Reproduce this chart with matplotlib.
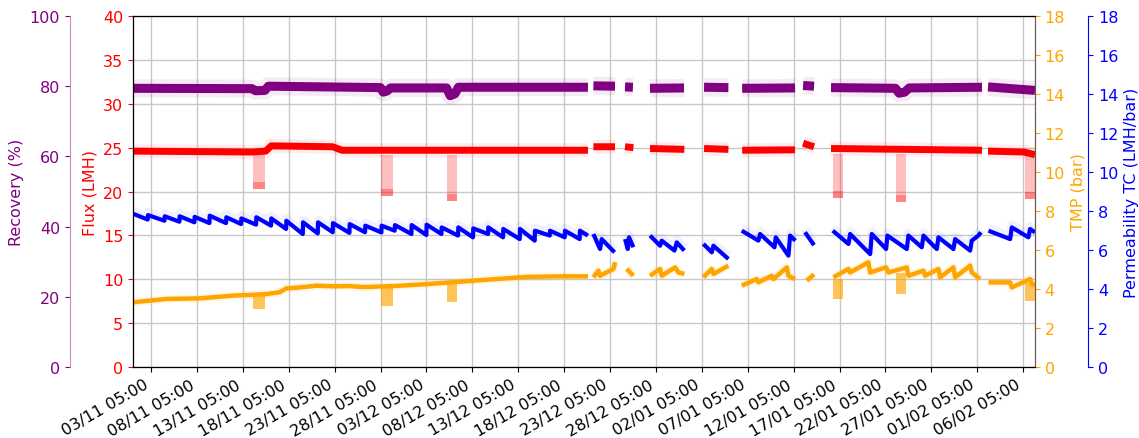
import numpy as np
import matplotlib
matplotlib.use("Agg")
import matplotlib.pyplot as plt
import matplotlib.dates as mdates
from datetime import datetime, timedelta

start = datetime(2020, 11, 1)

# times are days since 01/11 00:00, None marks a break in the record
rec_days = [0.3, 13.2, 13.6, 14.6, 15.0, 27.2, 27.5, 27.9, 28.3, 34.4, 34.8, 35.3, 35.7, 49.8, None,
            50.4, 52.75, None, 53.84, 54.7, None, 56.56, 60.27, None, 62.45, 65.1, None,
            66.6, 72.36, None, 73.24, 74.43, None, 76.28, 83.3, 83.7, 84.3, 84.8, 92.73, None,
            93.38, 98.5]
rec_vals = [79.4, 79.3, 78.7, 78.8, 80.0, 79.6, 78.3, 78.6, 79.5, 79.5, 77.3, 77.8, 79.7, 79.7, None,
            80.1, 80.0, None, 79.8, 79.7, None, 79.4, 79.5, None, 79.7, 79.6, None,
            79.4, 79.5, None, 80.2, 80.0, None, 79.6, 79.4, 78.0, 78.3, 79.5, 79.7, None,
            79.8, 78.8]

flux_days = [0.3, 13.2, 14.7, 15.3, 22.0, 23.0, 49.8, None,
             50.4, 52.75, None, 53.84, 54.75, None, 56.56, 60.3, None,
             62.45, 65.1, None, 66.6, 72.36, None, 73.24, 74.43, None,
             76.28, 92.73, None, 93.38, 97.3, 98.5]
flux_vals = [24.6, 24.5, 24.6, 25.2, 25.1, 24.7, 24.7, None,
             25.1, 25.1, None, 25.1, 25.0, None, 24.9, 24.8, None,
             24.9, 24.8, None, 24.7, 24.75, None, 25.5, 25.1, None,
             24.9, 24.7, None, 24.6, 24.5, 24.2]

tmp_days = [0.3, 3.88, 7.51, 11.14, 13.14, 14.77, 16.2, 16.95, 18.4, 20.2, 22.0, 23.85, 25.3,
            28.6, 32.2, 36.0, 39.5, 43.1, 46.75, 49.8, None,
            50.4, 50.94, 51.12, 52.58, 52.76, None, 54.03, 54.75, None,
            56.57, 57.66, 57.84, 59.29, 59.66, 60.3, None,
            62.38, 63.29, 63.47, 65.1, None,
            66.56, 68.19, 68.37, 69.82, 70.0, 71.46, 71.64, 72.36, None,
            73.64, 74.43, None,
            76.54, 78.18, 78.36, 80.35, 80.54, 82.28, 82.53, 84.53, 84.71, 86.35, 86.53,
            87.98, 88.16, 89.61, 89.8, 91.43, 91.61, 92.52, None,
            93.43, 95.79, 95.97, 97.96, 98.15, 98.5]
tmp_vals = [3.32, 3.49, 3.52, 3.66, 3.7, 3.74, 3.83, 4.03, 4.08, 4.17, 4.14, 4.15, 4.1,
            4.15, 4.25, 4.38, 4.5, 4.62, 4.65, 4.65, None,
            4.6, 4.94, 4.68, 5.03, 5.37, None, 5.03, 4.68, None,
            4.68, 5.03, 4.68, 5.11, 4.85, 4.77, None,
            4.6, 5.03, 4.77, 5.2, None,
            4.17, 4.51, 4.34, 4.68, 4.51, 5.11, 4.68, 4.51, None,
            4.43, 4.75, None,
            4.6, 5.03, 4.85, 5.37, 4.85, 5.11, 4.85, 5.11, 4.68, 4.94, 4.68,
            5.03, 4.6, 5.11, 4.6, 5.2, 4.85, 4.51, None,
            4.34, 4.34, 4.08, 4.51, 4.26, 4.2]

perm_days = [0.3, 1.85, 1.88, 3.67, 3.70, 5.30, 5.33, 6.93, 6.96, 8.57, 8.60, 10.38,
             10.41, 12.02, 12.05, 13.65, 13.68, 15.28, 15.31, 16.92, 16.95, 18.74,
             18.77, 20.37, 20.40, 22.00, 22.03, 23.82, 23.85, 25.52, 25.55, 27.30,
             27.33, 28.75, 28.78, 30.57, 30.60, 32.20, 32.23, 33.84, 33.87, 35.65,
             35.68, 37.28, 37.31, 38.92, 38.95, 40.55, 40.58, 42.37, 42.40, 44.00,
             44.03, 45.64, 45.67, 47.27, 47.30, 48.90, 48.93, 49.80, None,
             50.4, 51.12, 51.3, 52.7, None,
             53.85, 54.14, 54.28, 54.75, None,
             56.57, 57.66, 57.84, 59.22, 59.48, 60.3, None,
             62.38, 63.29, 63.47, 65.1, None,
             66.56, 68.37, 68.55, 70.12, 70.26, 71.64, 71.82, 72.4, None,
             73.45, 74.43, None,
             76.47, 78.18, 78.36, 80.54, 80.72, 82.28, 82.42, 84.53, 84.71, 86.16,
             86.35, 87.8, 87.98, 89.61, 89.8, 91.43, 91.61, 92.34, 92.6, None,
             93.43, 95.79, 95.97, 97.78, 97.96, 98.5]
perm_vals = [7.85, 7.56, 7.79, 7.50, 7.73, 7.45, 7.73, 7.42, 7.70, 7.38, 7.76, 7.38,
             7.68, 7.33, 7.62, 7.30, 7.68, 7.25, 7.62, 7.08, 7.50, 6.82,
             7.42, 6.85, 7.42, 6.91, 7.38, 6.88, 7.33, 6.91, 7.25, 6.90,
             7.25, 6.99, 7.28, 6.82, 7.28, 6.77, 7.30, 6.82, 7.16, 6.74,
             7.16, 6.65, 7.11, 6.82, 7.16, 6.65, 7.08, 6.56, 7.08, 6.48,
             6.99, 6.74, 6.99, 6.65, 6.99, 6.56, 6.99, 6.74, None,
             6.82, 6.05, 6.56, 5.88, None,
             6.56, 6.05, 6.65, 6.14, None,
             6.74, 6.22, 6.48, 5.97, 6.39, 5.97, None,
             6.31, 5.88, 6.22, 5.54, None,
             6.99, 6.48, 6.82, 6.14, 6.65, 5.71, 6.74, 6.48, None,
             6.91, 6.25, None,
             6.99, 6.31, 6.82, 5.79, 6.82, 6.05, 6.74, 6.05, 6.74, 6.14,
             6.74, 6.05, 6.65, 6.05, 6.56, 5.97, 6.48, 6.74, 6.91, None,
             6.99, 6.56, 7.16, 6.65, 7.08, 6.9]

# short drops of flux (and TMP) during the run
dip_start = [13.3, 27.3, 34.4, 76.5, 83.4, 97.4]
dip_end = [14.6, 28.6, 35.5, 77.6, 84.5, 98.5]
flux_dip_top = [24.2, 24.2, 24.2, 24.3, 24.3, 24.0]
flux_dip_low = [20.3, 19.5, 18.95, 19.3, 18.8, 19.1]
tmp_dip_top = [3.65, 4.1, 4.3, 4.5, 4.8, 4.3]
tmp_dip_low = [2.97, 3.14, 3.32, 3.49, 3.74, 3.4]

base = mdates.date2num(start)


def xs(days):
    return base + np.array(days, dtype=float)


def ys(vals):
    return np.array(vals, dtype=float)


fs = 11.5
fig = plt.figure(figsize=(11.39, 4.39), dpi=100)
ax = fig.add_axes([0.1168, 0.1617, 0.7919, 0.7996])
ax_rec = ax.twinx()
ax_tmp = ax.twinx()
ax_perm = ax.twinx()

# recovery
ax_rec.plot(xs(rec_days), ys(rec_vals), color="purple", lw=13, alpha=0.08, solid_capstyle="butt")
ax_rec.plot(xs(rec_days), ys(rec_vals), color="purple", lw=6.5, solid_capstyle="butt")

# flux
ax.plot(xs(flux_days), ys(flux_vals), color="red", lw=10, alpha=0.08, solid_capstyle="butt")
ax.plot(xs(flux_days), ys(flux_vals), color="red", lw=5, solid_capstyle="butt")
for s, e, top, low in zip(dip_start, dip_end, flux_dip_top, flux_dip_low):
    ax.fill_between(xs([s, e]), [low, low], [top, top], color="red", alpha=0.25, lw=0)
    ax.fill_between(xs([s, e]), [low, low], [low + 0.8, low + 0.8], color="red", alpha=0.3, lw=0)

# TMP
ax_tmp.plot(xs(tmp_days), ys(tmp_vals), color="orange", lw=6, alpha=0.1, solid_capstyle="butt")
ax_tmp.plot(xs(tmp_days), ys(tmp_vals), color="orange", lw=3.2, solid_capstyle="butt")
for s, e, top, low in zip(dip_start, dip_end, tmp_dip_top, tmp_dip_low):
    ax_tmp.fill_between(xs([s, e]), [low, low], [top, top], color="orange", alpha=0.65, lw=0)

# permeability
ax_perm.plot(xs(perm_days), ys(perm_vals) + 0.15, color="blue", lw=6, alpha=0.06, solid_capstyle="butt")
ax_perm.plot(xs(perm_days), ys(perm_vals), color="blue", lw=3, solid_capstyle="butt")

ax.set_xlim(base + 0.25, base + 98.5)
ax.set_ylim(0, 40)
ax_rec.set_ylim(0, 100)
ax_tmp.set_ylim(0, 18)
ax_perm.set_ylim(0, 18)

ticks = [mdates.date2num(start + timedelta(days=2, hours=5) + timedelta(days=5 * i)) for i in range(20)]
ax.set_xticks(ticks)
ax.xaxis.set_major_formatter(mdates.DateFormatter("%d/%m %H:%M"))
plt.setp(ax.get_xticklabels(), rotation=30, ha="right", fontsize=fs)
ax.grid(True, color="#c8c8c8", lw=1)
ax.set_axisbelow(True)
for sp in ax.spines.values():
    sp.set_color("#555555")

ax.set_yticks(range(0, 41, 5))
ax.tick_params(axis="y", colors="red", labelsize=fs)
ax.set_ylabel("Flux (LMH)", color="red", fontsize=fs)

ax_rec.spines["left"].set_position(("axes", -0.07))
ax_rec.spines["left"].set_visible(True)
ax_rec.spines["left"].set_color("#c38fc3")
ax_rec.spines["right"].set_visible(False)
ax_rec.spines["top"].set_visible(False)
ax_rec.spines["bottom"].set_visible(False)
ax_rec.yaxis.set_ticks_position("left")
ax_rec.yaxis.set_label_position("left")
ax_rec.set_yticks(range(0, 101, 20))
ax_rec.tick_params(axis="y", colors="purple", labelsize=fs)
ax_rec.set_ylabel("Recovery (%)", color="purple", fontsize=fs)

ax_tmp.set_yticks(range(0, 19, 2))
ax_tmp.tick_params(axis="y", colors="orange", labelsize=fs)
ax_tmp.spines["right"].set_color("#6b5d45")
ax_tmp.set_ylabel("TMP (bar)", color="orange", fontsize=fs)

ax_perm.spines["right"].set_position(("axes", 1.059))
ax_perm.spines["right"].set_color("blue")
ax_perm.set_yticks(range(0, 19, 2))
ax_perm.tick_params(axis="y", colors="blue", labelsize=fs)
ax_perm.set_ylabel("Permeability TC (LMH/bar)", color="blue", fontsize=fs)

fig.savefig("out.png", dpi=100)
